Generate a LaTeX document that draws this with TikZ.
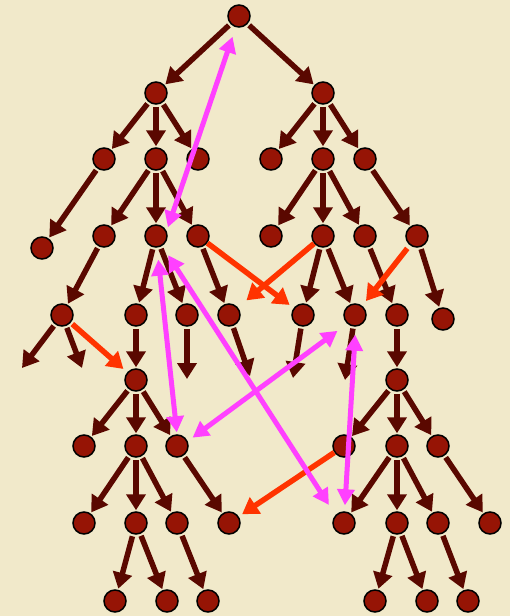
\documentclass[tikz,border=0pt]{standalone}
\usetikzlibrary{arrows.meta}
\definecolor{bgc}{HTML}{F1E9CA}
\definecolor{nodefill}{HTML}{961405}
\definecolor{brownc}{HTML}{5A0800}
\definecolor{redc}{HTML}{FF3300}
\definecolor{magc}{HTML}{FF40FF}
\begin{document}
\begin{tikzpicture}[x=1pt,y=-1pt,
  nd/.style={circle,minimum size=22pt,inner sep=0pt,fill=nodefill,draw=black,line width=1.5pt},
  br/.style={draw=brownc,line width=5.5pt,-{Triangle[length=16pt,width=19pt]},shorten <=2pt,shorten >=1pt},
  rd/.style={draw=redc,line width=5.5pt,-{Triangle[length=16pt,width=19pt]}},
  mg/.style={draw=magc,line width=5pt,{Triangle[length=16pt,width=17pt]}-{Triangle[length=16pt,width=17pt]}}]
\fill[bgc] (0,0) rectangle (510,616);
\useasboundingbox (0,0) rectangle (510,616);
% nodes
\node[nd] (r) at (239,16) {};
\node[nd] (a) at (156,93) {};
\node[nd] (b) at (323,93) {};
\node[nd] (a1) at (104,159) {};
\node[nd] (a2) at (156,159) {};
\node[nd] (a3) at (198,159) {};
\node[nd] (b1) at (271,159) {};
\node[nd] (b2) at (323,159) {};
\node[nd] (b3) at (365,159) {};
\node[nd] (c1) at (42,248) {};
\node[nd] (c2) at (104,236) {};
\node[nd] (c3) at (156,236) {};
\node[nd] (c4) at (198,236) {};
\node[nd] (c5) at (271,236) {};
\node[nd] (c6) at (323,236) {};
\node[nd] (c7) at (365,236) {};
\node[nd] (c8) at (417,236) {};
\node[nd] (d1) at (62,315) {};
\node[nd] (d2) at (136,315) {};
\node[nd] (d3) at (187,315) {};
\node[nd] (d4) at (229,315) {};
\node[nd] (d5) at (303,315) {};
\node[nd] (d6) at (355,315) {};
\node[nd] (d7) at (397,315) {};
\node[nd] (d8) at (443,319) {};
\node[nd] (e1) at (136,380) {};
\node[nd] (e2) at (397,380) {};
\node[nd] (f1) at (84,446) {};
\node[nd] (f2) at (136,446) {};
\node[nd] (f3) at (177,446) {};
\node[nd] (f4) at (344,446) {};
\node[nd] (f5) at (397,446) {};
\node[nd] (f6) at (438,446) {};
\node[nd] (g1) at (84,523) {};
\node[nd] (g2) at (136,523) {};
\node[nd] (g3) at (177,523) {};
\node[nd] (g4) at (229,523) {};
\node[nd] (g5) at (344,523) {};
\node[nd] (g6) at (397,523) {};
\node[nd] (g7) at (438,523) {};
\node[nd] (g8) at (490,523) {};
\node[nd] (h1) at (115,601) {};
\node[nd] (h2) at (167,601) {};
\node[nd] (h3) at (208,601) {};
\node[nd] (h4) at (375,601) {};
\node[nd] (h5) at (427,601) {};
\node[nd] (h6) at (468,601) {};
% free ends
\coordinate (x1) at (22,368);
\coordinate (x2) at (82,368);
\coordinate (x3) at (187,379);
\coordinate (x4) at (250,376);
\coordinate (x5) at (293,378);
\coordinate (x6) at (345,380);
% brown tree edges
\foreach \s/\t in {r/a,r/b,a/a1,a/a2,a/a3,b/b1,b/b2,b/b3,
  a1/c1,a2/c2,a2/c3,a2/c4,b2/c5,b2/c6,b2/c7,b3/c8,
  c2/d1,c3/d2,c3/d3,c4/d4,c6/d5,c6/d6,c7/d7,c8/d8,
  d2/e1,d7/e2,
  e1/f1,e1/f2,e1/f3,e2/f4,e2/f5,e2/f6,
  f2/g1,f2/g2,f2/g3,f3/g4,f5/g5,f5/g6,f5/g7,f6/g8,
  g2/h1,g2/h2,g3/h3,g6/h4,g6/h5,g7/h6}
  \draw[br] (\s) -- (\t);
\foreach \s/\t in {d1/x1,d1/x2,d3/x3,d4/x4,d5/x5,d6/x6}
  \draw[br,shorten >=0pt] (\s) -- (\t);
% red edges
\draw[rd,shorten >=5pt] (c4) -- (d5);
\draw[rd,shorten >=11pt] (c6) -- (d4);
\draw[rd,shorten <=4pt,shorten >=6pt] (c8) -- (d6);
\draw[rd,shorten <=2pt,shorten >=5pt] (d1) -- (e1);
\draw[rd,shorten >=4pt] (f4) -- (g4);
% magenta double arrows
\draw[mg,shorten <=10pt,shorten >=4pt] (r.-106) -- (c3.25);
\draw[mg,shorten <=12pt,shorten >=2pt] (c3.-85) -- (f3.90);
\draw[mg,shorten <=11pt,shorten >=12pt] (c3.-58) -- (g5.137);
\draw[mg,shorten <=6pt,shorten >=12pt] (f3.24) -- (d6.-132);
\draw[mg,shorten <=8pt,shorten >=6pt] (d6.-87) -- (g5.87);
\end{tikzpicture}
\end{document}
